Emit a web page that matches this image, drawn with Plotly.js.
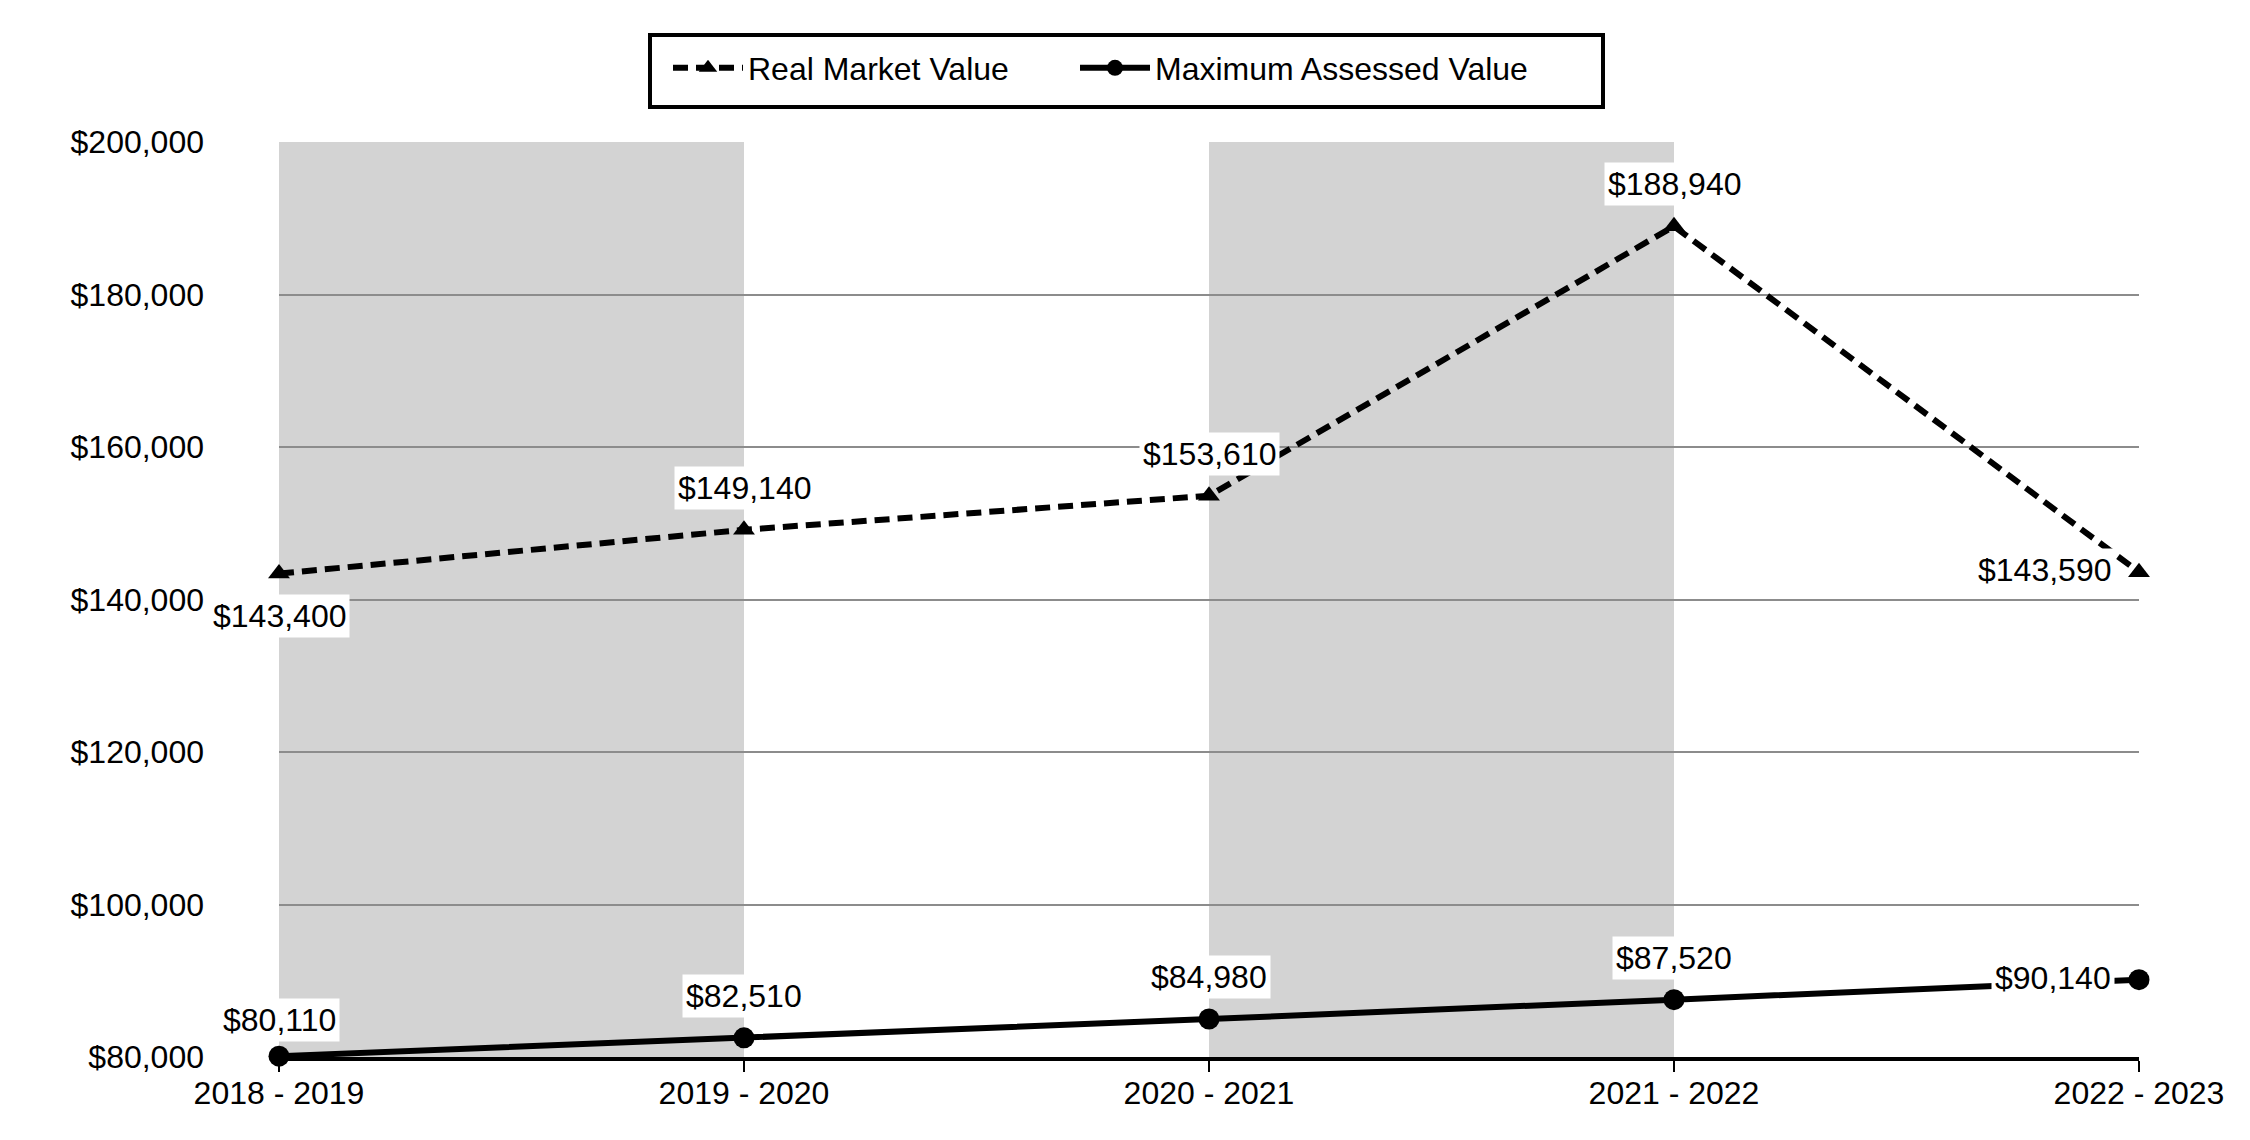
<!DOCTYPE html>
<html>
<head>
<meta charset="utf-8">
<script src="https://cdn.plot.ly/plotly-3.0.1.min.js"></script>
<style>html,body{margin:0;padding:0;background:#fff;}#chart{width:2250px;height:1140px;}</style>
</head>
<body>
<div id="chart"></div>
<script>
// ---- data ----
var years = ['2018 - 2019', '2019 - 2020', '2020 - 2021', '2021 - 2022', '2022 - 2023'];
var realMarketValue = [143400, 149140, 153610, 188940, 143590];
var maxAssessedValue = [80110, 82510, 84980, 87520, 90140];
var seriesNames = ['Real Market Value', 'Maximum Assessed Value'];
var shadedSpans = [[0, 1], [2, 3]];

// ---- label placement (style) ----
var rmvLabelPos = ['below', 'above', 'above', 'above', 'left'];
var mavLabelPos = ['above', 'above', 'above', 'above', 'left'];

var FONT = 'Liberation Sans, Arial, sans-serif';
function fmt(v) { return '$' + v.toLocaleString('en-US'); }

function makeLabels(vals, pos, up) {
  return vals.map(function (v, i) {
    var a = {
      x: years[i], y: v, xref: 'x', yref: 'y', text: fmt(v), showarrow: false,
      font: {family: FONT, size: 32, color: '#000'},
      bgcolor: '#ffffff', borderpad: 3
    };
    if (pos[i] === 'above') { a.xanchor = 'center'; a.yanchor = 'middle'; a.yshift = up; }
    else if (pos[i] === 'below') { a.xanchor = 'center'; a.yanchor = 'middle'; a.yshift = -up; }
    else if (pos[i] === 'left') { a.xanchor = 'right'; a.yanchor = 'middle'; a.xshift = -24; a.yshift = 2; }
    return a;
  });
}

var annotations = makeLabels(realMarketValue, rmvLabelPos, 42)
  .concat(makeLabels(maxAssessedValue, mavLabelPos, 42));
annotations[5].yshift = 36;

var shapes = shadedSpans.map(function (s) {
  return {type: 'rect', xref: 'x', yref: 'paper', x0: s[0], x1: s[1], y0: 0, y1: 1,
          fillcolor: '#d3d3d3', line: {width: 0}, layer: 'below'};
});
// legend frame (plot area spans x 279..2139, y 142..1057 px)
shapes.push({type: 'rect', xref: 'paper', yref: 'paper',
  x0: (650 - 279) / 1860, x1: (1603 - 279) / 1860,
  y0: (1057 - 107) / 915, y1: (1057 - 35) / 915,
  line: {color: '#000', width: 4}, fillcolor: 'rgba(0,0,0,0)', layer: 'above'});

var traces = [
  {
    x: years, y: realMarketValue, name: seriesNames[0], type: 'scatter', mode: 'lines+markers',
    line: {color: '#000', width: 6, dash: '15px,8px'},
    marker: {symbol: 'triangle-up', size: 19, color: '#000'},
    cliponaxis: false, hoverinfo: 'skip', legend: 'legend'
  },
  {
    x: years, y: maxAssessedValue, name: seriesNames[1], type: 'scatter', mode: 'lines+markers',
    line: {color: '#000', width: 6},
    marker: {symbol: 'circle', size: 21, color: '#000'},
    cliponaxis: false, hoverinfo: 'skip', legend: 'legend2'
  }
];

function legendAt(px) {
  return {
    orientation: 'h', xref: 'container', yref: 'container',
    x: px / 2250, xanchor: 'left', y: 1 - 68 / 1140, yanchor: 'middle',
    borderwidth: 0, bgcolor: 'rgba(0,0,0,0)',
    font: {family: FONT, size: 32, color: '#000'},
    itemwidth: 70
  };
}

var layout = {
  width: 2250, height: 1140,
  margin: {l: 279, r: 111, t: 142, b: 83},
  paper_bgcolor: '#fff', plot_bgcolor: '#fff',
  font: {family: FONT, size: 32, color: '#000'},
  showlegend: true,
  legend: legendAt(668),
  legend2: legendAt(1075),
  xaxis: {
    type: 'category', range: [0, 4], showgrid: false, zeroline: false,
    showline: true, linecolor: '#000', linewidth: 4,
    ticks: 'outside', ticklen: 11, tickwidth: 2, tickcolor: '#000',
    ticklabelstandoff: -6,
    tickfont: {family: FONT, size: 32, color: '#000'},
    fixedrange: true
  },
  yaxis: {
    range: [80000, 200000], dtick: 20000, tick0: 80000,
    tickprefix: '$', tickformat: ',d',
    showgrid: true, gridcolor: '#8c8c8c', gridwidth: 2,
    zeroline: false, showline: false, ticks: '',
    ticklabelstandoff: 74,
    tickfont: {family: FONT, size: 32, color: '#000'},
    fixedrange: true
  },
  shapes: shapes,
  annotations: annotations
};

Plotly.newPlot('chart', traces, layout, {displayModeBar: false, staticPlot: true});
</script>
</body>
</html>
